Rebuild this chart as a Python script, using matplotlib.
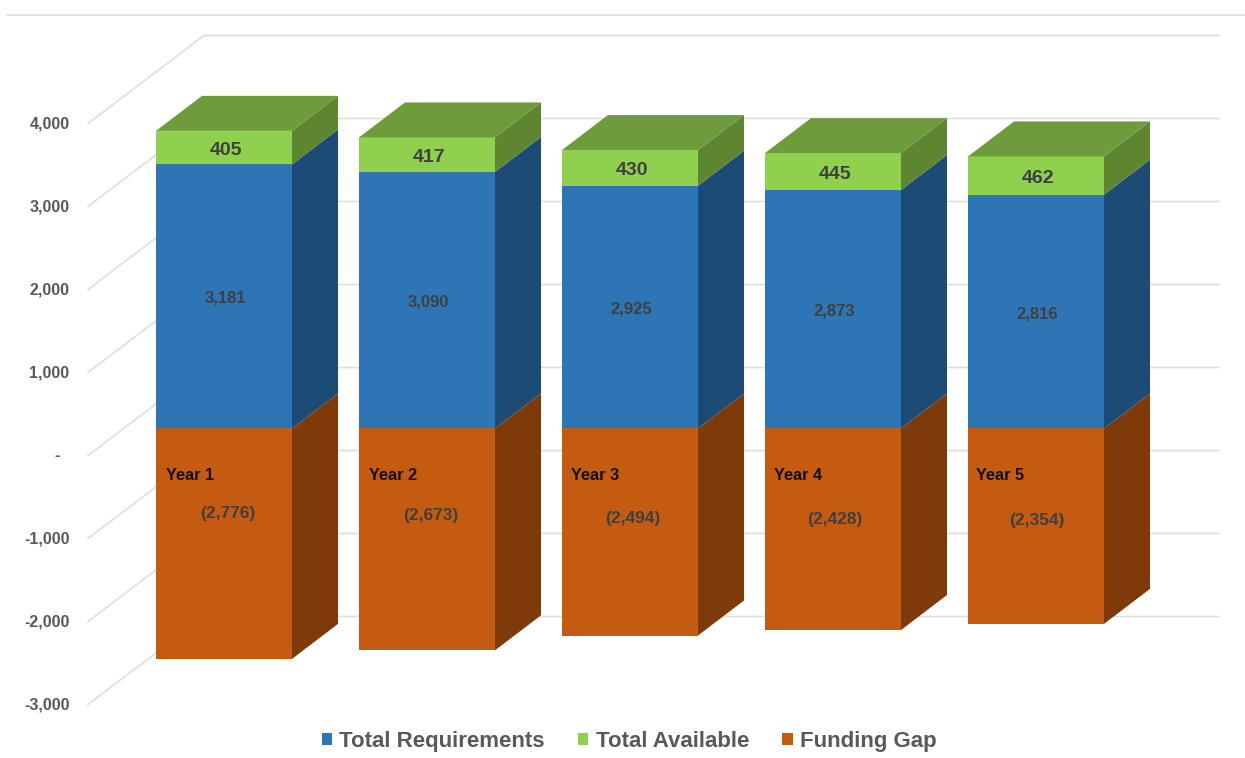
import matplotlib
matplotlib.use("Agg")
import matplotlib.pyplot as plt
from matplotlib.patches import Polygon, Patch
from matplotlib.lines import Line2D

plt.rcParams['font.family'] = ['Liberation Sans', 'DejaVu Sans']

# ---- data ----
years = ["Year 1", "Year 2", "Year 3", "Year 4", "Year 5"]
total_requirements = [3181, 3090, 2925, 2873, 2816]
total_available = [405, 417, 430, 445, 462]
funding_gap = [-2776, -2673, -2494, -2428, -2354]
tick_values = [4000, 3000, 2000, 1000, 0, -1000, -2000, -3000]
tick_labels = ["4,000", "3,000", "2,000", "1,000", "-  ", "-1,000", "-2,000", "-3,000"]
series_names = ["Total Requirements", "Total Available", "Funding Gap"]

# ---- layout (pixels of a 1245x758 figure) ----
W, H = 1245, 758
PX_PER_UNIT = 0.083      # vertical pixels per value unit
ZERO_Y = 428.5           # pixel row of value 0 on the bars' front face
FIRST_X = 224            # pixel column of first bar centre
PITCH = 203              # pixels between bar centres
AX_LEFT = 75
BAR_W = 136 / PITCH
DEPTH_X = 46 / PITCH
DEPTH_Y = 35 / PX_PER_UNIT
# value-axis plane: shift of front axis edge relative to the bar front face
AXIS_SHIFT = 27 / PX_PER_UNIT
WALL_DY = 88 / PX_PER_UNIT
AXIS_X = (88 - FIRST_X) / PITCH
WALL_X = (204 - FIRST_X) / PITCH
WALL_END = (1219 - FIRST_X) / PITCH

GRID = "#DEDEDE"
TEXT = "#595959"
DARK = "#404040"
COL = {
    "req": ("#2E75B6", "#1C4B75"),
    "avail": ("#8FD14F", "#5E8530", "#6F9C3B"),
    "gap": ("#C55A11", "#7E3A09"),
}

fig = plt.figure(figsize=(W / 100, H / 100), dpi=100, facecolor="white")
ax = fig.add_axes([AX_LEFT / W, 0, 1 - AX_LEFT / W, 1])
ax.set_xlim((AX_LEFT - FIRST_X) / PITCH, (W - FIRST_X) / PITCH)
ax.set_ylim((ZERO_Y - H) / PX_PER_UNIT, ZERO_Y / PX_PER_UNIT)
for s in ax.spines.values():
    s.set_visible(False)
ax.set_xticks([])
ax.set_yticks([v - AXIS_SHIFT + 1 / PX_PER_UNIT for v in tick_values])
ax.set_yticklabels(tick_labels, fontsize=11.5, fontweight="bold", color=TEXT)
ax.tick_params(axis="y", length=0, pad=4)
ax.patch.set_alpha(0)

# wall gridlines
for v in tick_values:
    y0 = v - AXIS_SHIFT
    ax.plot([AXIS_X, WALL_X, WALL_END], [y0, y0 + WALL_DY, y0 + WALL_DY],
            color=GRID, lw=1.2, zorder=1, solid_joinstyle="miter")

# top rule
fig.add_artist(Line2D([7 / W, 1], [1 - 14.5 / H, 1 - 14.5 / H], color=GRID, lw=1.2))


def box(ax, i, lo, hi, front, side, top=None):
    left = i - BAR_W / 2
    right = i + BAR_W / 2
    ax.add_patch(Polygon([(left, lo), (right, lo), (right, hi), (left, hi)],
                         closed=True, fc=front, ec="none", zorder=3))
    ax.add_patch(Polygon([(right, lo), (right + DEPTH_X, lo + DEPTH_Y),
                          (right + DEPTH_X, hi + DEPTH_Y), (right, hi)],
                         closed=True, fc=side, ec="none", zorder=3))
    if top is not None:
        ax.add_patch(Polygon([(left, hi), (right, hi), (right + DEPTH_X, hi + DEPTH_Y),
                              (left + DEPTH_X, hi + DEPTH_Y)],
                             closed=True, fc=top, ec="none", zorder=3))


for i, (req, av, gap) in enumerate(zip(total_requirements, total_available, funding_gap)):
    box(ax, i, gap, 0, *COL["gap"])
    box(ax, i, 0, req, *COL["req"])
    box(ax, i, req, req + av, *COL["avail"])
    xc = i + 2 / PITCH
    ax.text(xc, req + av / 2 - 3 / PX_PER_UNIT, f"{av:,}", ha="center", va="center",
            fontsize=14, fontweight="bold", color=DARK, zorder=5)
    ax.text(xc - 1 / PITCH, req / 2 - 2 / PX_PER_UNIT, f"{req:,}", ha="center", va="center",
            fontsize=12, fontweight="bold", color=DARK, zorder=5)
    gap_px = 85 + (2776 + gap) / 60
    ax.text(i + (4 - 0.75 * i) / PITCH, -gap_px / PX_PER_UNIT, f"({-gap:,})", ha="center",
            va="center", fontsize=12.5, fontweight="bold", color=DARK, zorder=5)
    ax.text(i - (58 + 0.4 * i) / PITCH, -47 / PX_PER_UNIT, years[i], ha="left", va="center",
            fontsize=11.8, fontweight="bold", color="#111111", zorder=5)

handles = [Patch(fc=COL["req"][0], label=series_names[0]),
           Patch(fc=COL["avail"][0], label=series_names[1]),
           Patch(fc=COL["gap"][0], label=series_names[2])]
leg = fig.legend(handles=handles, loc="center", bbox_to_anchor=(629 / W, 1 - 741.7 / H),
                 ncol=3, frameon=False, labelcolor=TEXT,
                 handlelength=0.47, handleheight=0.47, handletextpad=0.32,
                 columnspacing=1.5, prop={"weight": "bold", "size": 16})

fig.savefig("out.png", dpi=100, facecolor="white")
